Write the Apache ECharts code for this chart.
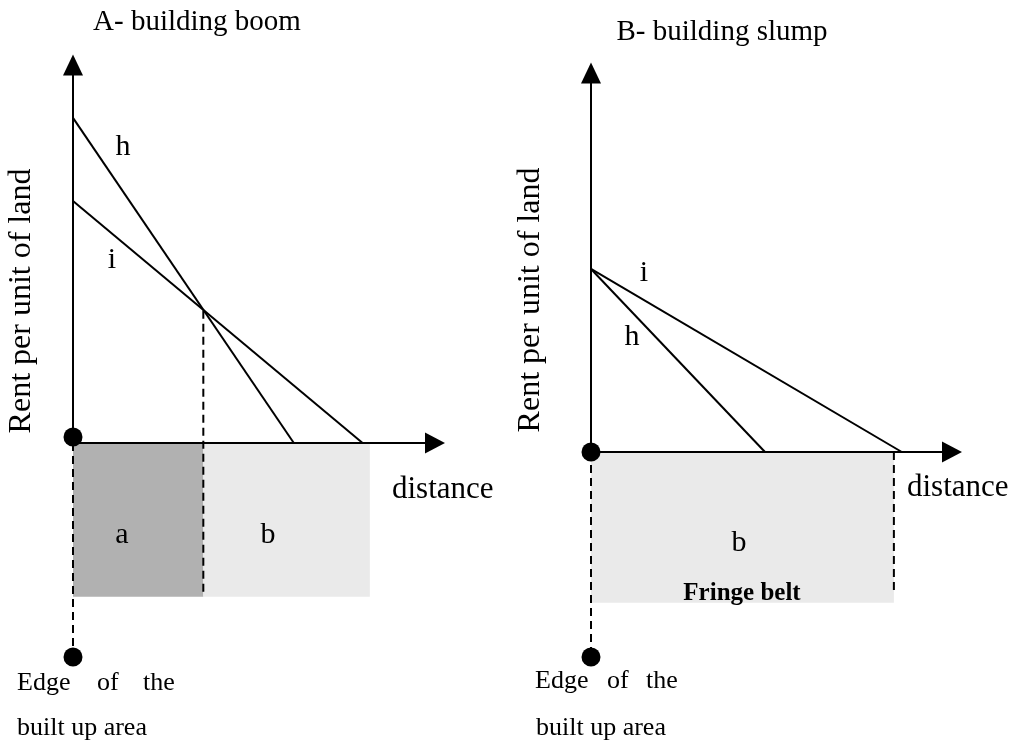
<!DOCTYPE html>
<html>
<head>
<meta charset="utf-8">
<style>
  html, body { margin: 0; padding: 0; background: #fff; }
  #main { width: 1016px; height: 744px; }
</style>
<script src="https://cdn.jsdelivr.net/npm/echarts@6/dist/echarts.min.js"></script>
</head>
<body>
<div id="main"></div>
<script>
// A - building boom (left panel), units: distance 0..10, rent 0..10
var boomH = [[0, 8.6], [6.1, 0]];
var boomI = [[0, 6.4], [8.0, 0]];
var boomCross = [[3.6, 3.5], [3.6, -4.02]];       // dashed drop from h/i crossing
var boomZones = [[0, 3.6, 0, -4.07, 'a'], [3.6, 8.2, 0, -4.07, 'b']];
var boomEdge = [[0, 0], [0, -5.48]];
var boomDots = [[0, 0.16], [0, -5.66]];

// B - building slump (right panel)
var slumpH = [[0, 4.83], [4.82, 0]];
var slumpI = [[0, 4.83], [8.61, 0]];
var slumpBeltEdge = [[8.39, 0], [8.39, -3.77]];
var slumpZones = [[0, 8.39, 0, -3.98, 'b']];
var slumpEdge = [[0, 0], [0, -5.22]];
var slumpDots = [[0, 0], [0, -5.41]];

var zoneColors = { a: '#b1b1b1', b: '#eaeaea' };
var serif = '"Liberation Serif", "Times New Roman", serif';

var myChart = echarts.init(document.getElementById('main'));

function xAx(gi) {
  return {
    type: 'value', gridIndex: gi, min: 0, max: 10, z: 4,
    axisLine: { onZero: true, symbol: ['none', 'triangle'], symbolSize: [21, 20],
                lineStyle: { color: '#000', width: 2 } },
    axisTick: { show: false }, axisLabel: { show: false }, splitLine: { show: false }
  };
}
function yAx(gi) {
  return {
    type: 'value', gridIndex: gi, min: 0, max: 10, z: 4,
    axisLine: { onZero: true, symbol: ['none', 'triangle'], symbolSize: [20, 21],
                lineStyle: { color: '#000', width: 2 } },
    axisTick: { show: false }, axisLabel: { show: false }, splitLine: { show: false }
  };
}
function solid(gi, data) {
  return { type: 'line', xAxisIndex: gi, yAxisIndex: gi, data: data, showSymbol: false,
           clip: false, z: 3, lineStyle: { color: '#000', width: 2 } };
}
function dashed(gi, data) {
  return { type: 'line', xAxisIndex: gi, yAxisIndex: gi, data: data, showSymbol: false,
           clip: false, z: 3, lineStyle: { color: '#000', width: 2, type: [8, 5] } };
}
function dots(gi, data) {
  return { type: 'scatter', xAxisIndex: gi, yAxisIndex: gi, data: data, symbolSize: 19,
           clip: false, z: 6, itemStyle: { color: '#000', opacity: 1 } };
}
function zones(gi, data) {
  return {
    type: 'custom', xAxisIndex: gi, yAxisIndex: gi, data: data, clip: false, z: 1,
    renderItem: function (params, api) {
      var p0 = api.coord([api.value(0), api.value(2)]);
      var p1 = api.coord([api.value(1), api.value(3)]);
      var key = data[params.dataIndex][4];
      return {
        type: 'rect',
        shape: { x: p0[0], y: p0[1], width: p1[0] - p0[0], height: p1[1] - p0[1] },
        style: { fill: zoneColors[key] }
      };
    }
  };
}

function txt(x, y, s, size, extra) {
  var o = { type: 'text', x: x, y: y, z: 10,
    style: { text: s, font: size + 'px ' + serif, fill: '#000', align: 'center', verticalAlign: 'middle' } };
  if (extra) { for (var k in extra) { if (k === 'style') { for (var j in extra.style) o.style[j] = extra.style[j]; } else o[k] = extra[k]; } }
  return o;
}

var option = {
  animation: false,
  backgroundColor: '#fff',
  grid: [
    { left: 73, top: 65, width: 362, height: 378 },
    { left: 591, top: 73, width: 361, height: 379 }
  ],
  xAxis: [xAx(0), xAx(1)],
  yAxis: [yAx(0), yAx(1)],
  series: [
    zones(0, boomZones),
    solid(0, boomH), solid(0, boomI),
    dashed(0, boomCross), dashed(0, boomEdge),
    dots(0, boomDots),
    zones(1, slumpZones),
    solid(1, slumpH), solid(1, slumpI),
    dashed(1, slumpBeltEdge), dashed(1, slumpEdge),
    dots(1, slumpDots)
  ],
  graphic: [
    txt(197, 22, 'A- building boom', 29),
    txt(722, 32, 'B- building slump', 29),
    txt(22, 301, 'Rent per unit of land', 32, { rotation: Math.PI / 2 }),
    txt(531, 300, 'Rent per unit of land', 32, { rotation: Math.PI / 2 }),
    txt(123, 147, 'h', 30), txt(112, 260, 'i', 30),
    txt(644, 273, 'i', 30), txt(632, 337, 'h', 30),
    txt(122, 535, 'a', 30), txt(268, 535, 'b', 30),
    txt(739, 543, 'b', 30),
    txt(742, 594, 'Fringe belt', 25, { style: { font: 'bold 25px ' + serif } }),
    txt(392, 490, 'distance', 31, { style: { align: 'left' } }),
    txt(907, 488, 'distance', 31, { style: { align: 'left' } }),
    txt(17, 683, 'Edge', 26, { style: { align: 'left' } }),
    txt(97, 683, 'of', 26, { style: { align: 'left' } }),
    txt(143, 683, 'the', 26, { style: { align: 'left' } }),
    txt(17, 728, 'built up area', 26, { style: { align: 'left' } }),
    txt(535, 681, 'Edge', 26, { style: { align: 'left' } }),
    txt(607, 681, 'of', 26, { style: { align: 'left' } }),
    txt(646, 681, 'the', 26, { style: { align: 'left' } }),
    txt(536, 728, 'built up area', 26, { style: { align: 'left' } })
  ]
};
myChart.setOption(option);
</script>
</body>
</html>
